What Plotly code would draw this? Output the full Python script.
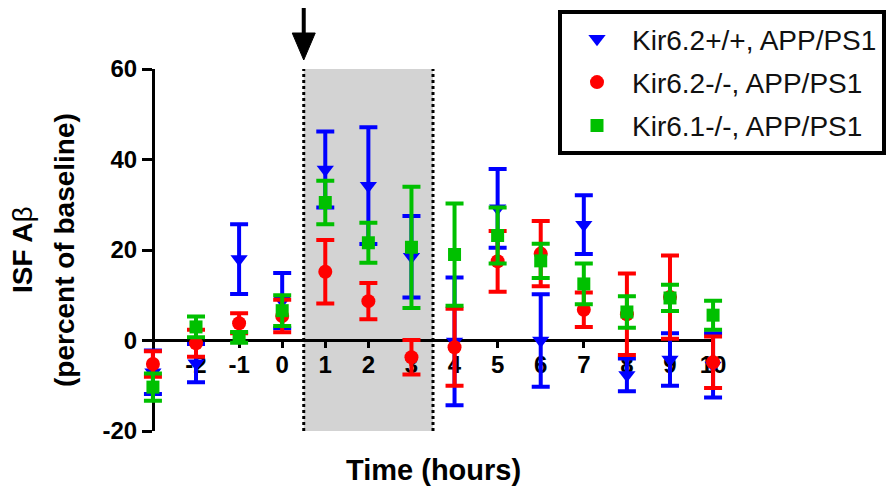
import plotly.graph_objects as go

time_h = [-3, -2, -1, 0, 1, 2, 3, 4, 5, 6, 7, 8, 9, 10]
tick_vals = [-2, -1, 0, 1, 2, 3, 4, 5, 6, 7, 8, 9, 10]
y_ticks = [-20, 0, 20, 40, 60]

names = ["Kir6.2+/+, APP/PS1", "Kir6.2-/-, APP/PS1", "Kir6.1-/-, APP/PS1"]

wt_mean = [-7.0, -5.0, 18.0, 8.8, 37.8, 34.2, 18.5, -0.2, 29.2, 0.0, 25.6, -7.6, -4.2, -5.5]
wt_err = [4.8, 4.2, 7.7, 6.1, 8.4, 12.9, 9.0, 14.1, 8.7, 10.2, 6.5, 3.6, 5.8, 7.1]

k62_mean = [-5.2, -0.6, 3.8, 5.4, 15.2, 8.7, -3.7, -1.5, 17.5, 19.2, 6.8, 5.8, 9.6, -4.8]
k62_err = [2.8, 3.0, 2.2, 3.6, 7.0, 4.0, 3.8, 8.5, 6.7, 7.2, 3.8, 9.0, 9.2, 5.7]

k61_mean = [-10.3, 3.0, 0.7, 6.6, 30.5, 21.6, 20.6, 19.0, 23.2, 17.6, 12.5, 6.3, 9.4, 5.6]
k61_err = [3.0, 2.3, 1.2, 3.4, 4.8, 4.4, 13.4, 11.3, 6.2, 3.8, 4.5, 3.5, 2.9, 3.2]

treat_start, treat_end = 0.5, 3.5
x_first, x_last = -3, 10
y_min, y_max = -20, 60
x_range = [-3.3, 10.3]

FONT = "Liberation Sans, Arial, sans-serif"

# page body has an 8px default margin, so the figure is drawn 8px smaller
W, H = 887, 484
ML, MR, MT, MB = 132, 169, 61, 61
PW = W - ML - MR

series = [
    (names[0], wt_mean, wt_err, "#0000ff", "triangle-down", 15),
    (names[1], k62_mean, k62_err, "#ff0000", "circle", 14),
    (names[2], k61_mean, k61_err, "#00c000", "square", 13),
]

fig = go.Figure()
for i, (name, m, e, col, sym, sz) in enumerate(series):
    fig.add_trace(go.Scatter(
        x=time_h, y=m, mode="markers", name=name, legendgroup=f"g{i}",
        marker=dict(symbol=sym, size=sz, color=col, line=dict(width=0)),
        error_y=dict(type="data", array=e, visible=True, color=col,
                     thickness=4, width=9),
        cliponaxis=False,
    ))

shapes = [
    dict(type="rect", xref="x", yref="y", x0=treat_start, x1=treat_end,
         y0=y_min, y1=y_max, fillcolor="#d3d3d3", line=dict(width=0),
         layer="below"),
    dict(type="line", xref="x", yref="y", x0=treat_start, x1=treat_start,
         y0=y_min, y1=y_max, line=dict(color="black", width=3, dash="dot"),
         layer="below"),
    dict(type="line", xref="x", yref="y", x0=treat_end, x1=treat_end,
         y0=y_min, y1=y_max, line=dict(color="black", width=3, dash="dot"),
         layer="below"),
    # x axis line at y = 0 from first to last time point
    dict(type="line", xref="x", yref="y", x0=x_first, x1=x_last, y0=0, y1=0,
         line=dict(color="black", width=3), layer="below"),
    # arrow marking treatment start
    dict(type="line", xref="x", yref="paper", xsizemode="pixel", ysizemode="pixel",
         xanchor=treat_start, yanchor=1, x0=0, x1=0, y0=34, y1=61,
         line=dict(color="black", width=4)),
    dict(type="path", xref="x", yref="paper", xsizemode="pixel", ysizemode="pixel",
         xanchor=treat_start, yanchor=1, path="M -11.5 36 L 11.5 36 L 0 9 Z",
         fillcolor="black", line=dict(color="black", width=1)),
]

fig.update_layout(
    width=W, height=H,
    margin=dict(l=ML, r=MR, t=MT, b=MB, autoexpand=False),
    paper_bgcolor="white", plot_bgcolor="white",
    font=dict(family=FONT, color="black"),
    shapes=shapes,
    showlegend=True,
    legend=dict(
        x=(550 - ML) / PW, y=1.163, xanchor="left", yanchor="top",
        bgcolor="white", bordercolor="black", borderwidth=4,
        font=dict(family=FONT, size=28, color="#111111"),
        itemwidth=60, tracegroupgap=4, traceorder="grouped",
    ),
    xaxis=dict(
        range=x_range, tickvals=tick_vals, ticktext=[str(v) for v in tick_vals],
        anchor="free", position=(0 - y_min) / (y_max - y_min),
        showline=False,
        ticks="outside", ticklen=6, tickwidth=3, tickcolor="black",
        tickfont=dict(family=FONT, size=24, color="black", weight="bold"),
        ticklabelstandoff=-3,
        showgrid=False, zeroline=False, layer="below traces",
    ),
    yaxis=dict(
        range=[y_min, y_max], tickvals=y_ticks,
        ticktext=[str(v) for v in y_ticks],
        anchor="free", position=(x_first - x_range[0]) / (x_range[1] - x_range[0]),
        showline=True, linecolor="black", linewidth=3,
        ticks="outside", ticklen=10, tickwidth=3, tickcolor="black",
        tickfont=dict(family=FONT, size=24, color="black", weight="bold"),
        showgrid=False, zeroline=False, layer="below traces",
    ),
    annotations=[
        dict(text="<b>Time (hours)</b>", xref="paper", yref="paper",
             x=(425 - ML) / PW, y=-0.109, xanchor="center", yanchor="middle",
             showarrow=False, font=dict(family=FONT, size=29, color="black")),
        dict(text="<b>ISF A</b>β", xref="paper", yref="paper", textangle=-90,
             x=(14 - ML) / PW, y=0.5, xanchor="center", yanchor="middle",
             showarrow=False, font=dict(family=FONT, size=28, color="black")),
        dict(text="<b>(percent of baseline)</b>", xref="paper", yref="paper",
             textangle=-90,
             x=(56 - ML) / PW, y=0.5, xanchor="center", yanchor="middle",
             showarrow=False, font=dict(family=FONT, size=28, color="black")),
    ],
)

fig.write_html("out.html")
